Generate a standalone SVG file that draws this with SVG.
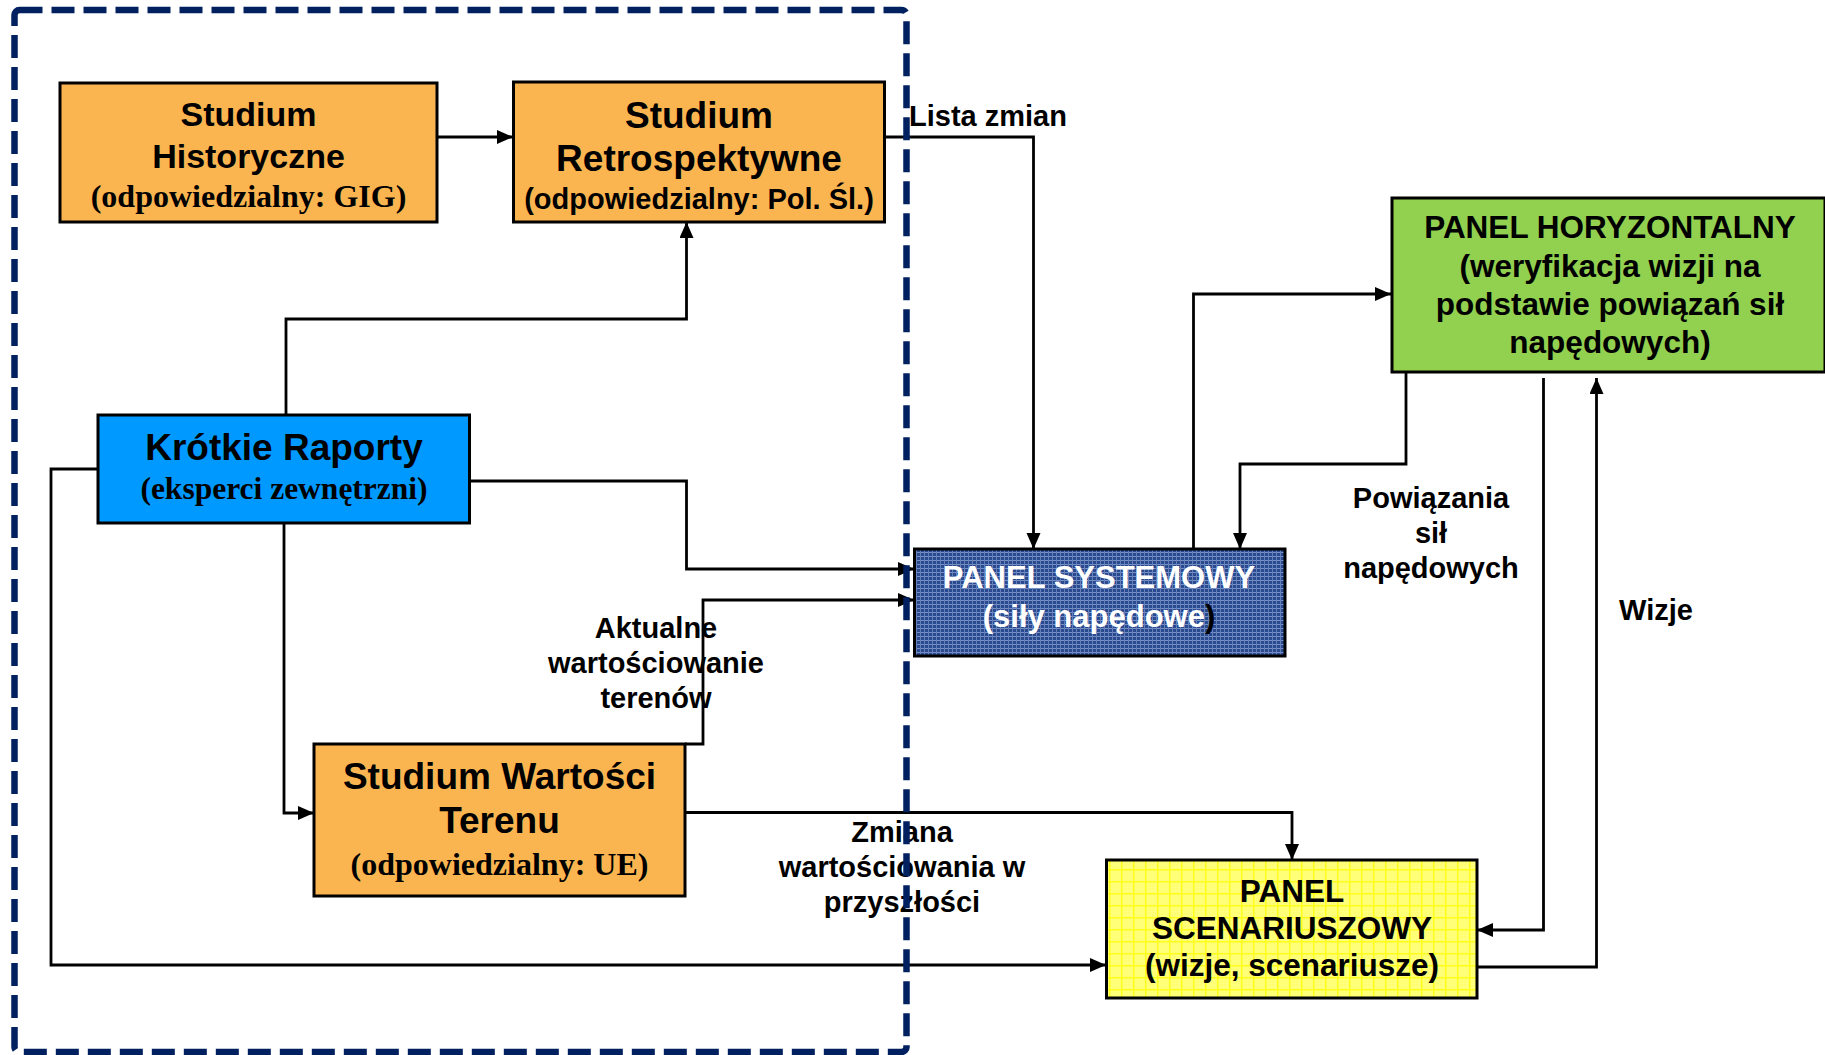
<svg xmlns="http://www.w3.org/2000/svg" width="1825" height="1055" viewBox="0 0 1825 1055">
<defs>
<style>
.box{stroke:#000;stroke-width:3}
.orange{fill:#fbb550}
.sans{font-family:"Liberation Sans",Arial,sans-serif;font-weight:bold;text-anchor:middle;fill:#000}
.serif{font-family:"Liberation Serif","Times New Roman",serif;font-weight:bold;text-anchor:middle;fill:#000}
.conn{fill:none;stroke:#000;stroke-width:2.8;marker-end:url(#arr)}
.lbl{font-family:"Liberation Sans",Arial,sans-serif;font-weight:bold;font-size:29px;text-anchor:middle;fill:#000}
</style>
<marker id="arr" markerUnits="userSpaceOnUse" markerWidth="17" markerHeight="15" refX="16" refY="7" orient="auto">
<path d="M0,0 L16,7 L0,14 z" fill="#000"/>
</marker>
<pattern id="bluegrid" width="4" height="4" patternUnits="userSpaceOnUse">
<rect width="4" height="4" fill="#2a4a8f"/>
<rect width="4" height="1" fill="#7890c4"/>
<rect width="1" height="4" fill="#6680ba"/>
</pattern>
<pattern id="yellowgrid" width="12" height="12" patternUnits="userSpaceOnUse">
<rect width="12" height="12" fill="#ffff78"/>
<rect x="0" y="5" width="12" height="1.5" fill="#ffff1a"/>
<rect x="5" y="0" width="1.5" height="12" fill="#ffff1a"/>
</pattern>
</defs>
<rect width="1825" height="1055" fill="#fff"/>

<g id="labels">
<text class="lbl" x="909" y="126" style="text-anchor:start">Lista zmian</text>
<text class="lbl" x="1431" y="508">Powiązania</text>
<text class="lbl" x="1431" y="543">sił</text>
<text class="lbl" x="1431" y="578">napędowych</text>
<text class="lbl" x="1656" y="620">Wizje</text>
<text class="lbl" x="656" y="638">Aktualne</text>
<text class="lbl" x="656" y="673">wartościowanie</text>
<text class="lbl" x="656" y="708">terenów</text>
<text class="lbl" x="902" y="842">Zmiana</text>
<text class="lbl" x="902" y="877">wartościowania w</text>
<text class="lbl" x="902" y="912">przyszłości</text>
</g>

<g id="connectors">
<path class="conn" d="M437,137 H513"/>
<path class="conn" d="M884,137 H1033.5 V549"/>
<path class="conn" d="M286,415 V319 H686.5 V222"/>
<path class="conn" d="M469.5,481 H686.5 V569 H914"/>
<path class="conn" d="M685,744 H703 V600 H914"/>
<path class="conn" d="M284,524 V813 H314"/>
<path class="conn" d="M98,469 H51 V965 H1106"/>
<path class="conn" d="M685,812.5 H1292 V860"/>
<path class="conn" d="M1193.5,549 V294 H1391"/>
<path class="conn" d="M1406,372 V464 H1240 V549"/>
<path class="conn" d="M1543.5,378 V930 H1477"/>
<path class="conn" d="M1477,967 H1596.5 V378"/>
</g>

<g id="studium-historyczne">
<rect class="box orange" x="60" y="83" width="377" height="139"/>
<text class="sans" x="248.5" y="126" font-size="34">Studium</text>
<text class="sans" x="248.5" y="168" font-size="34">Historyczne</text>
<text class="serif" x="248.5" y="207" font-size="32">(odpowiedzialny: GIG)</text>
</g>

<g id="studium-retrospektywne">
<rect class="box orange" x="513.5" y="82" width="371" height="140"/>
<text class="sans" x="699" y="128" font-size="37">Studium</text>
<text class="sans" x="699" y="170.5" font-size="37">Retrospektywne</text>
<text class="sans" x="699" y="209" font-size="29">(odpowiedzialny: Pol. Śl.)</text>
</g>

<g id="krotkie-raporty">
<rect class="box" fill="#0099ff" x="98" y="415" width="371.5" height="108"/>
<text class="sans" x="284" y="460" font-size="37">Krótkie Raporty</text>
<text class="serif" x="284" y="499" font-size="31.5">(eksperci zewnętrzni)</text>
</g>

<g id="studium-wartosci-terenu">
<rect class="box orange" x="314" y="744" width="371" height="152"/>
<text class="sans" x="499.5" y="788.5" font-size="37">Studium Wartości</text>
<text class="sans" x="499.5" y="832.5" font-size="37">Terenu</text>
<text class="serif" x="499.5" y="874.5" font-size="32">(odpowiedzialny: UE)</text>
</g>

<g id="panel-systemowy">
<rect class="box" fill="url(#bluegrid)" x="914.5" y="549" width="370.5" height="107"/>
<text class="sans" x="1099" y="588" font-size="31" style="fill:#fff">PANEL SYSTEMOWY</text>
<text class="sans" x="1099" y="627" font-size="31" style="fill:#fff">(siły napędowe<tspan style="fill:#000">)</tspan></text>
</g>

<g id="panel-horyzontalny">
<rect class="box" fill="#92d050" x="1392" y="198" width="433" height="174"/>
<text class="sans" x="1610" y="238" font-size="31.5">PANEL HORYZONTALNY</text>
<text class="sans" x="1610" y="277" font-size="31.5">(weryfikacja wizji na</text>
<text class="sans" x="1610" y="315" font-size="31.5">podstawie powiązań sił</text>
<text class="sans" x="1610" y="353" font-size="31.5">napędowych)</text>
</g>

<g id="panel-scenariuszowy">
<rect class="box" fill="url(#yellowgrid)" x="1106.5" y="860" width="370.5" height="138"/>
<text class="sans" x="1292" y="901.5" font-size="31.5">PANEL</text>
<text class="sans" x="1292" y="939" font-size="31.5">SCENARIUSZOWY</text>
<text class="sans" x="1292" y="976" font-size="31.5">(wizje, scenariusze)</text>
</g>

<g id="boundary">
<rect x="14.5" y="10" width="892" height="1042" rx="5" fill="none" stroke="#002060" stroke-width="6.5" stroke-dasharray="23 9"/>
</g>
</svg>
